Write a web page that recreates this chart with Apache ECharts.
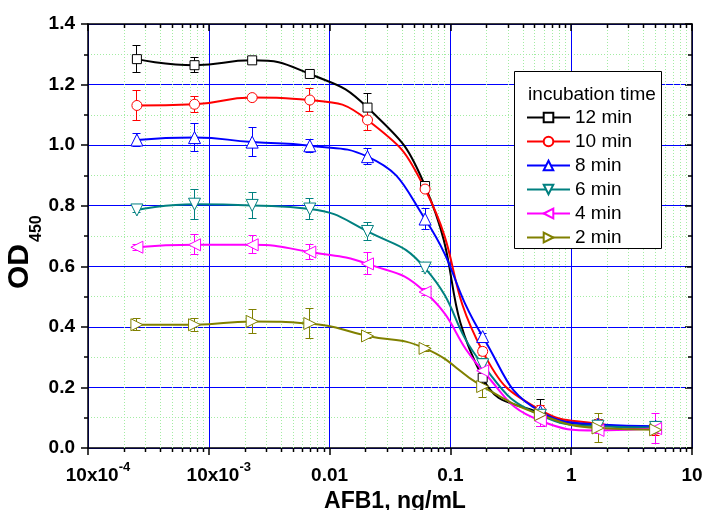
<!DOCTYPE html>
<html>
<head>
<meta charset="utf-8">
<title>AFB1 competitive ELISA – incubation time</title>
<script src="https://cdn.jsdelivr.net/npm/echarts@6/dist/echarts.min.js"></script>
<style>
  html, body { margin: 0; padding: 0; background: #ffffff; }
  #chart { width: 703px; height: 510px; }
</style>
</head>
<body>
<div id="chart"></div>
<script>
// AFB1 concentration, ng/mL (threefold serial dilution)
const concentrations = [0.000254, 0.000762, 0.002286, 0.00686, 0.0206, 0.0617, 0.185, 0.556, 1.667, 5];

// Mean OD450 and standard deviation for each incubation time
const od12min = [1.284, 1.264, 1.280, 1.235, 1.124, 0.865, 0.232, 0.115, 0.075, 0.067];
const sd12min = [0.044, 0.024, 0.006, 0.006, 0.048, 0.012, 0.020, 0.045, 0.020, 0.020];
const od10min = [1.131, 1.135, 1.157, 1.149, 1.083, 0.855, 0.319, 0.125, 0.080, 0.062];
const sd10min = [0.050, 0.026, 0.006, 0.038, 0.036, 0.010, 0.012, 0.015, 0.015, 0.020];
const od8min  = [1.017, 1.025, 1.010, 0.998, 0.962, 0.756, 0.368, 0.120, 0.078, 0.072];
const sd8min  = [0.021, 0.045, 0.047, 0.021, 0.027, 0.035, 0.010, 0.010, 0.010, 0.010];
const od6min  = [0.786, 0.805, 0.801, 0.789, 0.715, 0.594, 0.275, 0.108, 0.072, 0.068];
const sd6min  = [0.010, 0.050, 0.042, 0.035, 0.031, 0.010, 0.020, 0.010, 0.010, 0.010];
const od4min  = [0.663, 0.671, 0.671, 0.647, 0.608, 0.515, 0.255, 0.090, 0.058, 0.064];
const sd4min  = [0.010, 0.033, 0.030, 0.025, 0.036, 0.012, 0.020, 0.020, 0.010, 0.050];
const od2min  = [0.407, 0.407, 0.418, 0.411, 0.370, 0.329, 0.203, 0.110, 0.066, 0.060];
const sd2min  = [0.020, 0.022, 0.040, 0.050, 0.010, 0.010, 0.035, 0.010, 0.047, 0.010];

const seriesNames = ['12 min', '10 min', '8 min', '6 min', '4 min', '2 min'];
const legendTitle = 'incubation time';

// Axis ticks and labels
const xTickValues = [1e-4, 1e-3, 0.01, 0.1, 1, 10];
const xTickBase   = ['10x10', '10x10', '0.01', '0.1', '1', '10'];
const xTickExp    = ['-4', '-3', '', '', '', ''];
const minorMultipliers = [2, 3, 4, 5, 6, 7, 8, 9];
const yMin = 0, yMax = 1.4, yStep = 0.2;
const xTitle = 'AFB1, ng/mL';
const yTitleMain = 'OD';
const yTitleSub = '450';

// ---- styling ----
const FONT = 'Arial, "Liberation Sans", Helvetica, sans-serif';
const seriesStyles = [
  { color: '#000000', symbol: 'rect',     size: 9,  rotate: 0 },
  { color: '#ff0000', symbol: 'circle',   size: 10, rotate: 0 },
  { color: '#0000ff', symbol: 'triangle', size: 12, rotate: 0 },
  { color: '#008080', symbol: 'triangle', size: 12, rotate: 180 },
  { color: '#ff00ff', symbol: 'triangle', size: 12, rotate: 90 },
  { color: '#808000', symbol: 'triangle', size: 12, rotate: -90 }
];
const MAJOR_GRID = '#0000ff';
const MINOR_GRID = '#a3eca3';

const meanTable = [od12min, od10min, od8min, od6min, od4min, od2min];
const sdTable = [sd12min, sd10min, sd8min, sd6min, sd4min, sd2min];

// minor tick positions of the log axis: 2..9 within each decade
const minorXTicks = [];
xTickValues.slice(0, -1).forEach(d => minorMultipliers.forEach(m => minorXTicks.push(d * m)));

function crisp(v) { return Math.round(v - 0.5) + 0.5; }

function renderErrorBar(params, api) {
  const x = api.value(0), y = api.value(1), e = api.value(2);
  const top = api.coord([x, y + e]);
  const bot = api.coord([x, y - e]);
  const cx = crisp(top[0]);
  const half = 4;
  const style = { stroke: api.visual('color'), lineWidth: 1, fill: null };
  return {
    type: 'group',
    children: [
      { type: 'line', shape: { x1: cx, y1: top[1], x2: cx, y2: bot[1] }, style },
      { type: 'line', shape: { x1: cx - half, y1: crisp(top[1]), x2: cx + half, y2: crisp(top[1]) }, style },
      { type: 'line', shape: { x1: cx - half, y1: crisp(bot[1]), x2: cx + half, y2: crisp(bot[1]) }, style }
    ]
  };
}

function renderMinorX(params, api) {
  const v = api.value(0);
  const pb = api.coord([v, yMin]);
  const pt = api.coord([v, yMax]);
  const x = crisp(pb[0]);
  return {
    type: 'group',
    silent: true,
    children: [
      { type: 'line', shape: { x1: x, y1: pt[1], x2: x, y2: pb[1] },
        style: { stroke: MINOR_GRID, lineWidth: 1, lineDash: [1, 2] } },
      { type: 'line', shape: { x1: x, y1: pb[1], x2: x, y2: pb[1] + 4 },
        style: { stroke: '#000', lineWidth: 1.5 } },
      { type: 'line', shape: { x1: x, y1: pt[1], x2: x, y2: pt[1] + 4 },
        style: { stroke: '#000', lineWidth: 1.5 } }
    ]
  };
}

const series = [{
  type: 'custom',
  name: 'minor-x',
  renderItem: renderMinorX,
  data: minorXTicks.map(v => [v, yMin]),
  encode: { x: 0, y: 1 },
  clip: false,
  silent: true,
  z: 1
}];

seriesNames.forEach((name, i) => {
  const st = seriesStyles[i];
  const points = concentrations.map((c, k) => [c, meanTable[i][k]]);
  series.push({
    type: 'custom',
    name: name + ' SD',
    renderItem: renderErrorBar,
    data: concentrations.map((c, k) => [c, meanTable[i][k], sdTable[i][k]]),
    encode: { x: 0, y: 1 },
    itemStyle: { color: st.color },
    clip: false,
    silent: true,
    z: 2
  });
  series.push({
    type: 'line',
    name: name,
    data: points,
    smooth: 0.5,
    symbol: st.symbol,
    symbolSize: st.size,
    symbolRotate: st.rotate,
    showAllSymbol: true,
    lineStyle: { color: st.color, width: 2 },
    itemStyle: { color: '#ffffff', borderColor: st.color, borderWidth: 1 },
    emphasis: { disabled: true },
    z: 3
  });
});

const labelRich = {
  p: { fontSize: 19, fontWeight: 'bold', fontFamily: FONT, color: '#000', lineHeight: 29 },
  q: { fontSize: 19, fontWeight: 'bold', fontFamily: FONT, color: '#000', lineHeight: 29, padding: [0, 0, 0, 20] },
  s: { fontSize: 13, fontWeight: 'bold', fontFamily: FONT, color: '#000', lineHeight: 13, verticalAlign: 'top' }
};

const axisLineStyle = { color: '#000', width: 1.5 };

const option = {
  animation: false,
  backgroundColor: '#ffffff',
  grid: { left: 88, right: 11, top: 24, bottom: 62, containLabel: false, outerBoundsMode: 'none' },
  xAxis: [{
    type: 'log',
    logBase: 10,
    min: xTickValues[0],
    max: xTickValues[xTickValues.length - 1],
    position: 'bottom',
    axisLine: { onZero: false, lineStyle: axisLineStyle },
    axisTick: { show: true, length: 7, lineStyle: axisLineStyle },
    axisLabel: {
      show: true, margin: 13, showMinLabel: true, showMaxLabel: true,
      formatter: v => {
        const i = xTickValues.findIndex(t => Math.abs(Math.log10(t) - Math.log10(v)) < 1e-6);
        if (i < 0) return '';
        return xTickExp[i] ? '{q|' + xTickBase[i] + '}{s|' + xTickExp[i] + '}' : '{p|' + xTickBase[i] + '}';
      },
      rich: labelRich
    },
    splitLine: { show: true, lineStyle: { color: MAJOR_GRID, width: 1 } },
    minorTick: { show: false },
    minorSplitLine: { show: false }
  }, {
    type: 'log',
    logBase: 10,
    min: xTickValues[0],
    max: xTickValues[xTickValues.length - 1],
    position: 'top',
    axisLine: { onZero: false, lineStyle: axisLineStyle },
    axisTick: { show: true, inside: true, length: 7, lineStyle: axisLineStyle },
    axisLabel: { show: false },
    splitLine: { show: false }
  }],
  yAxis: [{
    type: 'value',
    min: yMin, max: yMax, interval: yStep,
    position: 'left',
    axisLine: { show: true, onZero: false, lineStyle: axisLineStyle },
    axisTick: { show: true, length: 7, lineStyle: axisLineStyle },
    minorTick: { show: true, splitNumber: 2, length: 4, lineStyle: axisLineStyle },
    axisLabel: {
      margin: 13, color: '#000', fontSize: 19, fontWeight: 'bold', fontFamily: FONT,
      formatter: v => v.toFixed(1)
    },
    splitLine: { show: true, lineStyle: { color: MAJOR_GRID, width: 1 } },
    minorSplitLine: { show: true, lineStyle: { color: MINOR_GRID, width: 1, type: [1, 2] } }
  }, {
    type: 'value',
    min: yMin, max: yMax, interval: yStep,
    position: 'right',
    axisLine: { show: true, onZero: false, lineStyle: axisLineStyle },
    axisTick: { show: true, inside: true, length: 7, lineStyle: axisLineStyle },
    minorTick: { show: true, splitNumber: 2, length: 4, lineStyle: axisLineStyle },
    axisLabel: { show: false },
    splitLine: { show: false },
    minorSplitLine: { show: false }
  }],
  legend: {
    data: seriesNames,
    orient: 'vertical',
    left: 526,
    top: 108,
    padding: 0,
    itemGap: 5,
    itemWidth: 43,
    itemHeight: 12,
    textStyle: { fontSize: 19, fontFamily: FONT, color: '#000' },
    selectedMode: false,
    z: 6
  },
  graphic: [
    {
      type: 'rect', z: 5, silent: true,
      shape: { x: 514.5, y: 71.5, width: 147, height: 177 },
      style: { fill: '#ffffff', stroke: '#000000', lineWidth: 1 }
    },
    {
      type: 'text', z: 6, silent: true, x: 592, y: 95,
      style: { text: legendTitle, fontSize: 19, fontFamily: FONT, fill: '#000',
               textAlign: 'center', align: 'center', textVerticalAlign: 'middle', verticalAlign: 'middle' }
    },
    {
      type: 'text', z: 6, silent: true, x: 395, y: 502,
      style: { text: xTitle, fontSize: 23, fontWeight: 'bold', fontFamily: FONT, fill: '#000',
               textAlign: 'center', align: 'center', textVerticalAlign: 'middle', verticalAlign: 'middle' }
    },
    {
      type: 'group', x: 31, y: 289, rotation: Math.PI / 2, silent: true,
      children: [
        { type: 'text', x: 0, y: -11,
          style: { text: yTitleMain, fontSize: 30, fontWeight: 'bold', fontFamily: FONT, fill: '#000',
                   textAlign: 'left', align: 'left', textVerticalAlign: 'middle', verticalAlign: 'middle' } },
        { type: 'text', x: 47, y: 6,
          style: { text: yTitleSub, fontSize: 16, fontWeight: 'bold', fontFamily: FONT, fill: '#000',
                   textAlign: 'left', align: 'left', textVerticalAlign: 'middle', verticalAlign: 'middle' } }
      ]
    }
  ],
  series: series
};

const chart = echarts.init(document.getElementById('chart'), null, { renderer: 'canvas' });
chart.setOption(option);
</script>
</body>
</html>
